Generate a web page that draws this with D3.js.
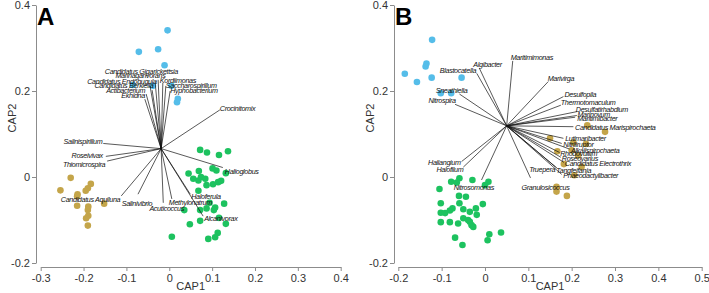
<!DOCTYPE html>
<html>
<head>
<meta charset="utf-8">
<script src="https://cdn.jsdelivr.net/npm/d3@7"></script>
<style>
  body { margin: 0; background: #fff; }
  svg { display: block; font-family: "Liberation Sans", Arial, sans-serif; }
  .axis path, .axis line { stroke: #8c8c8c; stroke-width: 1; }
  .axis text { fill: #333; font-size: 11px; font-family: "Liberation Sans", Arial, sans-serif; }
  .vec { stroke: #111; stroke-width: 0.7; }
  .lab { font-size: 7.2px; font-style: italic; letter-spacing: -0.35px; fill: #111; }
</style>
</head>
<body>
<script>

/*
	Data
 */

var xTicksA = [-0.3, -0.2, -0.1, 0, 0.1, 0.2, 0.3, 0.4];
var xTicksB = [-0.2, -0.1, 0, 0.1, 0.2, 0.3, 0.4, 0.5];
var yTicks = [-0.2, 0, 0.2, 0.4];

var blueA = [[-0.004,0.341],[-0.071,0.291],[-0.026,0.297],[-0.011,0.260],[-0.085,0.214],
	[-0.038,0.212],[0.005,0.212],[0.020,0.182],[0.018,0.174]];

var greenA = [[0.072,0.063],[0.088,0.057],[0.116,0.051],[0.137,0.060],[0.045,0.008],[0.056,-0.004],
	[0.069,0.014],[0.074,0.000],[0.068,-0.008],[0.084,-0.004],[0.101,0.020],[0.110,0.015],
	[0.132,0.009],[0.102,-0.017],[0.114,-0.012],[0.121,-0.009],[0.087,-0.019],[0.068,-0.032],
	[0.094,-0.060],[0.107,-0.071],[0.104,-0.077],[0.087,-0.073],[0.128,-0.062],[0.035,-0.077],
	[0.072,-0.077],[0.132,-0.109],[0.072,-0.102],[0.048,-0.110],[0.113,-0.130],[0.107,-0.140],
	[0.091,-0.144],[0.006,-0.139],[0.116,-0.095]];

var goldA = [[-0.230,-0.002],[-0.254,-0.031],[-0.214,-0.040],[-0.215,-0.045],[-0.183,-0.016],
	[-0.190,-0.026],[-0.195,-0.032],[-0.215,-0.067],[-0.189,-0.069],[-0.152,-0.062],
	[-0.189,-0.090],[-0.194,-0.096],[-0.190,-0.113],[-0.190,-0.077]];

var originA = [-0.019, 0.066];

var vectorsA = [
	{name:"Crocinitomix", x:0.118, y:0.156},
	{name:"Halioglobus", x:0.125, y:0.022},
	{name:"Alcanivorax", x:0.079, y:-0.091},
	{name:"Haloferula", x:0.049, y:-0.040},
	{name:"Methylonatrum", x:0.006, y:-0.051},
	{name:"Acuticoccus", x:-0.014, y:-0.060},
	{name:"Salinivibrio", x:-0.073, y:-0.040},
	{name:"Candidatus Aquiluna", x:-0.112, y:-0.044},
	{name:"Thiomicrospira", x:-0.145, y:0.037},
	{name:"Roseivivax", x:-0.148, y:0.048},
	{name:"Salinispirillum", x:-0.154, y:0.078},
	{name:"Candidatus Gigarickettsia", x:-0.026, y:0.226},
	{name:"Marinagarivorans", x:-0.033, y:0.221},
	{name:"Candidatus Endobugula", x:-0.045, y:0.212},
	{name:"Candidatus Berkiella", x:-0.040, y:0.202},
	{name:"Actibacterium", x:-0.054, y:0.193},
	{name:"Ekhidna", x:-0.057, y:0.181},
	{name:"Kordiimonas", x:-0.015, y:0.219},
	{name:"Saccharospirillum", x:-0.008, y:0.212},
	{name:"Hyphobacterium", x:0.002, y:0.200}
];

var blueB = [[-0.122,0.319],[-0.185,0.240],[-0.157,0.221],[-0.135,0.264],[-0.137,0.257],
	[-0.123,0.231],[-0.054,0.231],[-0.102,0.195],[-0.078,0.195]];

var greenB = [[-0.105,-0.028],[-0.102,-0.061],[-0.102,-0.083],[-0.102,-0.105],[-0.078,-0.011],
	[-0.059,-0.003],[-0.065,-0.013],[-0.029,-0.007],[0.000,-0.019],[0.008,-0.011],[-0.060,-0.044],
	[-0.044,-0.046],[-0.059,-0.061],[-0.005,-0.063],[-0.092,-0.084],[-0.081,-0.078],[-0.075,-0.073],
	[-0.050,-0.075],[-0.035,-0.081],[-0.019,-0.088],[-0.021,-0.073],[-0.050,-0.096],[-0.039,-0.100],
	[-0.035,-0.104],[-0.031,-0.112],[-0.027,-0.116],[-0.081,-0.105],[-0.062,-0.108],[0.010,-0.133],
	[0.037,-0.129],[-0.069,-0.141],[-0.052,-0.158],[0.006,-0.147]];

var goldB = [[0.236,0.120],[0.277,0.105],[0.150,0.090],[0.204,0.080],[0.233,0.077],[0.167,0.060],
	[0.200,0.062],[0.182,0.030],[0.223,0.024],[0.206,0.004],[0.165,-0.023],[0.165,-0.034],
	[0.189,-0.044],[0.215,0.050]];

var originB = [0.050, 0.119];

var vectorsB = [
	{name:"Maritimimonas", x:0.064, y:0.270},
	{name:"Algibacter", x:-0.013, y:0.253},
	{name:"Blastocatella", x:-0.019, y:0.241},
	{name:"Sneathiella", x:-0.059, y:0.193},
	{name:"Nitrospira", x:-0.069, y:0.169},
	{name:"Marivirga", x:0.146, y:0.222},
	{name:"Desulfopila", x:0.181, y:0.187},
	{name:"Thermotomaculum", x:0.175, y:0.167},
	{name:"Desulfatirhabdium", x:0.212, y:0.152},
	{name:"Marinovum", x:0.212, y:0.143},
	{name:"Maritimibacter", x:0.208, y:0.139},
	{name:"Candidatus Marispirochaeta", x:0.204, y:0.117},
	{name:"Lutimaribacter", x:0.181, y:0.090},
	{name:"Nitriliruptor", x:0.177, y:0.078},
	{name:"Alkalispirochaeta", x:0.195, y:0.065},
	{name:"Rhodovulum", x:0.172, y:0.057},
	{name:"Roseovarius", x:0.175, y:0.046},
	{name:"Candidatus Electrothrix", x:0.182, y:0.034},
	{name:"Truepera", x:0.163, y:0.023},
	{name:"Tangfeifania", x:0.167, y:0.020},
	{name:"Phaeodactylibacter", x:0.177, y:0.006},
	{name:"Granulosicoccus", x:0.105, y:-0.002},
	{name:"Haliangium", x:-0.054, y:0.036},
	{name:"Halofilum", x:-0.050, y:0.023},
	{name:"Nitrosomonas", x:-0.008, y:-0.007}
];

/*
	Label placement (anchor, dx, dy in px from the vector tip)
 */

var labelPosA = {
	"Crocinitomix":["start",0,1],
	"Halioglobus":["start",2,6],
	"Alcanivorax":["start",1,4.5],
	"Haloferula":["start",1,5],
	"Methylonatrum":["start",-3,6.5],
	"Acuticoccus":["middle",3.4,8],
	"Salinivibrio":["middle",-1,11.5],
	"Candidatus Aquiluna":["end",-1,6.5],
	"Thiomicrospira":["end",-2,6],
	"Roseivivax":["end",-3,1.5],
	"Salinispirillum":["end",-1,1],
	"Candidatus Gigarickettsia":["middle",-16.7,-6],
	"Marinagarivorans":["middle",-14.7,-3.5],
	"Candidatus Endobugula":["end",6.7,-2],
	"Candidatus Berkiella":["end",1.3,-2],
	"Actibacterium":["end",-1,-1.5],
	"Ekhidna":["end",0,-1.5],
	"Kordiimonas":["start",-3,0],
	"Saccharospirillum":["start",0,2],
	"Hyphobacterium":["start",0,2]
};

var labelPosB = {
	"Maritimimonas":["start",-2,-1],
	"Algibacter":["start",-6,-1.5],
	"Blastocatella":["end",-0.7,0],
	"Sneathiella":["end",8,-1.5],
	"Nitrospira":["end",0.7,-1.3],
	"Marivirga":["start",-0.6,-1],
	"Desulfopila":["start",1,0],
	"Thermotomaculum":["start",0,0],
	"Desulfatirhabdium":["start",-1,0],
	"Marinovum":["start",0.6,1.5],
	"Maritimibacter":["start",2,3.5],
	"Candidatus Marispirochaeta":["start",1.7,3.3],
	"Lutimaribacter":["start",1.7,2.7],
	"Nitriliruptor":["start",1.6,3.7],
	"Alkalispirochaeta":["start",1.4,3.5],
	"Rhodovulum":["start",0.7,3.7],
	"Roseovarius":["start",1,3.7],
	"Candidatus Electrothrix":["start",1,3.7],
	"Truepera":["end",-0.5,5],
	"Tangfeifania":["start",-1,4.2],
	"Phaeodactylibacter":["start",1.6,3.7],
	"Granulosicoccus":["middle",15,12],
	"Haliangium":["end",-1,3.3],
	"Halofilum":["end",0,5],
	"Nitrosomonas":["middle",-7.7,10]
};

var colors = { blue:"#55bde9", green:"#1dc25f", gold:"#c4a54a" };

/*
	Canvas
 */

var container = { width:709, height:293 };

var svg = d3.select('body').append('svg')
	.attr('width', container.width)
	.attr('height', container.height);

function fmt(d){
	return d === 0 ? "0" : d.toFixed(1);
}

function drawPanel(p){
	var x = d3.scaleLinear().domain(p.xDomain).range(p.xRange);
	var y = d3.scaleLinear().domain([-0.2, 0.4]).range([263, 5]);

	var g = svg.append('g');

	g.append('g').attr('class','axis')
		.attr('transform','translate(0,267)')
		.call(d3.axisBottom(x).tickValues(p.xTicks).tickFormat(fmt).tickSize(4).tickSizeOuter(0));

	g.append('g').attr('class','axis')
		.attr('transform','translate(' + p.yAxisX + ',0)')
		.call(d3.axisLeft(y).tickValues(yTicks).tickFormat(fmt).tickSize(4).tickSizeOuter(0).tickPadding(2));

	g.append('text').text('CAP1')
		.attr('x', (p.xRange[0] + p.xRange[1]) / 2).attr('y', 290)
		.attr('text-anchor','middle').attr('font-size', 11).attr('fill','#333');

	g.append('text').text('CAP2')
		.attr('transform','translate(' + (p.yAxisX - 20) + ',118) rotate(-90)')
		.attr('text-anchor','middle').attr('font-size', 11).attr('fill','#333');

	g.append('text').text(p.letter)
		.attr('x', p.yAxisX + 1).attr('y', 25)
		.attr('font-size', 24).attr('font-weight','bold').attr('fill','#000');

	// points
	[[p.blue, colors.blue], [p.green, colors.green], [p.gold, colors.gold]].forEach(function(s){
		g.append('g').selectAll('circle').data(s[0]).enter().append('circle')
			.attr('cx', function(d){ return x(d[0]); })
			.attr('cy', function(d){ return y(d[1]); })
			.attr('r', 3.3)
			.attr('fill', s[1]);
	});

	// vectors
	var ox = x(p.origin[0]), oy = y(p.origin[1]);
	g.append('g').selectAll('line').data(p.vectors).enter().append('line')
		.attr('class','vec')
		.attr('x1', ox).attr('y1', oy)
		.attr('x2', function(d){ return x(d.x); })
		.attr('y2', function(d){ return y(d.y); });

	g.append('g').selectAll('text').data(p.vectors).enter().append('text')
		.attr('class','lab')
		.attr('x', function(d){ return x(d.x) + p.labelPos[d.name][1]; })
		.attr('y', function(d){ return y(d.y) + p.labelPos[d.name][2]; })
		.attr('text-anchor', function(d){ return p.labelPos[d.name][0]; })
		.text(function(d){ return d.name; });
}

drawPanel({
	letter:"A", xDomain:[-0.3, 0.4], xRange:[40.7, 340.7], xTicks:xTicksA, yAxisX:36,
	blue:blueA, green:greenA, gold:goldA, origin:originA, vectors:vectorsA, labelPos:labelPosA
});

drawPanel({
	letter:"B", xDomain:[-0.2, 0.5], xRange:[398.3, 701.7], xTicks:xTicksB, yAxisX:394,
	blue:blueB, green:greenB, gold:goldB, origin:originB, vectors:vectorsB, labelPos:labelPosB
});

</script>
</body>
</html>
